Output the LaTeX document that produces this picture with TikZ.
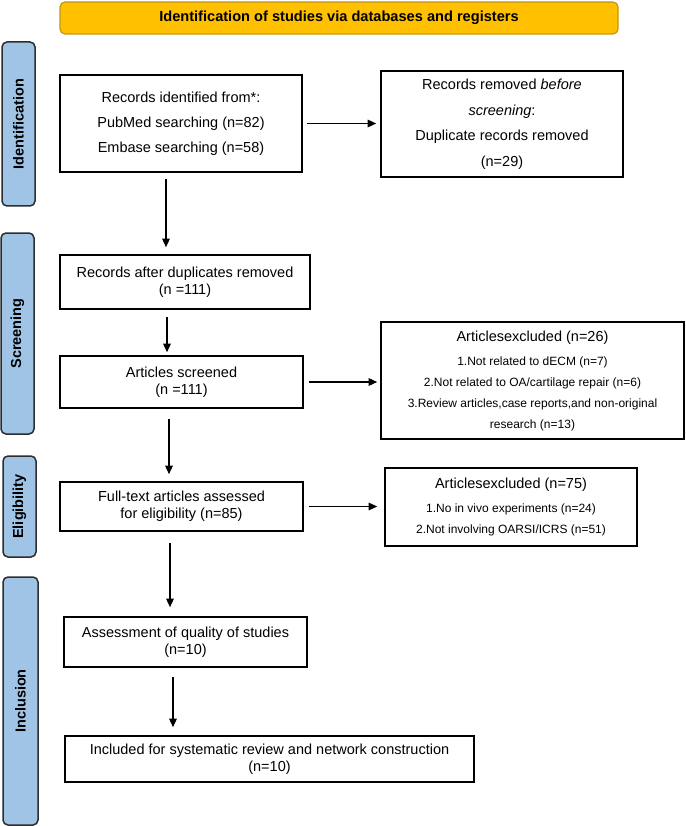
\documentclass[tikz,border=0pt]{standalone}
\definecolor{headgold}{RGB}{255, 192, 0}
\definecolor{headrim}{RGB}{196, 150, 20}
\definecolor{stageblue}{RGB}{160, 196, 230}
\definecolor{stagerim}{RGB}{45, 45, 45}
\usepackage{fontspec}
\setmainfont{Liberation Sans}
\usepackage{tikz}
\usetikzlibrary{arrows.meta, positioning, calc}

\begin{document}
\begin{tikzpicture}[x=1pt, y=-1pt,
  box/.style={draw, line width=1.6pt, inner sep=0pt, align=center, font=\fontsize{14.5}{17}\selectfont},
  stage/.style={draw=stagerim, fill=stageblue, line width=1.5pt, rounded corners=5pt, inner sep=0pt, font=\fontsize{14.5}{17}\selectfont\bfseries},
  flow/.style={line width=1.4pt, -{Triangle[length=8.5pt, width=7.5pt]}}]
  \useasboundingbox (0, 0) rectangle (685, 826);

  % header bar
  \node[draw=headrim, fill=headgold, line width=1.2pt, rounded corners=5pt, minimum width=558pt, minimum height=32pt, font=\fontsize{14.6}{17}\selectfont\bfseries] (head) at (339, 18) {Identification of studies via databases and registers};

  % stage bars (left side)
  \node[stage, minimum width=33pt, minimum height=164pt] (idbar) at (18.5, 124) {\rotatebox{90}{Identification}};
  \node[stage, minimum width=33pt, minimum height=201pt] (scbar) at (17.5, 333.5) {\rotatebox{90}{Screening}};
  \node[stage, minimum width=33pt, minimum height=101pt] (elbar) at (19.5, 506.5) {\rotatebox{90}{Eligibility}};
  \node[stage, minimum width=35pt, minimum height=248pt] (inbar) at (20.5, 701) {\rotatebox{90}{Inclusion}};

  % identification
  \node[box, minimum width=242pt, minimum height=97pt, font=\fontsize{14.5}{25}\selectfont] (recid) at (181, 123.5) {Records identified from*:\\ PubMed searching (n=82)\\ Embase searching (n=58)};
  \node[box, minimum width=242pt, minimum height=106pt, font=\fontsize{14.5}{25.5}\selectfont] (dupl) at (502, 124) {Records removed \textit{before}\\ \textit{screening}:\\ Duplicate records removed\\ (n=29)};

  % screening
  \node[box, minimum width=250pt, minimum height=54pt] (dedup) at (185, 282) {Records after duplicates removed\\ (n =111)};
  \node[box, minimum width=243pt, minimum height=52pt] (screened) at (181.5, 382) {Articles screened\\ (n =111)};
  \node[box, minimum width=303pt, minimum height=117pt, font=\fontsize{14.5}{21}\selectfont] (excl) at (532.5, 380.5) {Articlesexcluded (n=26)\\[3pt]
    {\fontsize{12}{21}\selectfont 1.Not related to dECM (n=7)}\\
    {\fontsize{12}{21}\selectfont 2.Not related to OA/cartilage repair (n=6)}\\
    {\fontsize{12}{21}\selectfont 3.Review articles,case reports,and non-original}\\
    {\fontsize{12}{21}\selectfont research (n=13)}};

  % eligibility
  \node[box, minimum width=243pt, minimum height=49pt] (fulltext) at (181.5, 506.5) {Full-text articles assessed\\ for eligibility (n=85)};
  \node[box, minimum width=252pt, minimum height=78pt, font=\fontsize{14.5}{21}\selectfont] (inelig) at (511, 507) {Articlesexcluded (n=75)\\[3pt]
    {\fontsize{12}{21}\selectfont 1.No in vivo experiments (n=24)}\\
    {\fontsize{12}{21}\selectfont 2.Not involving OARSI/ICRS (n=51)}};

  % inclusion
  \node[box, minimum width=243pt, minimum height=50pt] (quality) at (185.5, 642) {Assessment of quality of studies\\ (n=10)};
  \node[box, minimum width=409pt, minimum height=46pt] (included) at (269.5, 759) {Included for systematic review and network construction\\ (n=10)};

  % arrows
  \draw[flow, shorten <=4pt, shorten >=4pt] (recid.east) -- (recid.east -| dupl.west);
  \draw[flow, shorten <=6pt, shorten >=7pt] ([xshift=-15pt]recid.south) -- ([xshift=-15pt]recid.south |- dedup.north);
  \draw[flow, shorten <=7pt, shorten >=3pt] ([xshift=-18pt]dedup.south) -- ([xshift=-18pt]dedup.south |- screened.north);
  \draw[flow, shorten <=5pt, shorten >=3pt] (screened.east) -- (screened.east -| excl.west);
  \draw[flow, shorten <=10pt, shorten >=7pt] ([xshift=-12.5pt]screened.south) -- ([xshift=-12.5pt]screened.south |- fulltext.north);
  \draw[flow, shorten <=5pt, shorten >=7pt] (fulltext.east) -- (fulltext.east -| inelig.west);
  \draw[flow, shorten <=11pt, shorten >=9pt] ([xshift=-11.5pt]fulltext.south) -- ([xshift=-11.5pt]fulltext.south |- quality.north);
  \draw[flow, shorten <=9pt, shorten >=8pt] ([xshift=-12.5pt]quality.south) -- ([xshift=-12.5pt]quality.south |- included.north);
\end{tikzpicture}
\end{document}
